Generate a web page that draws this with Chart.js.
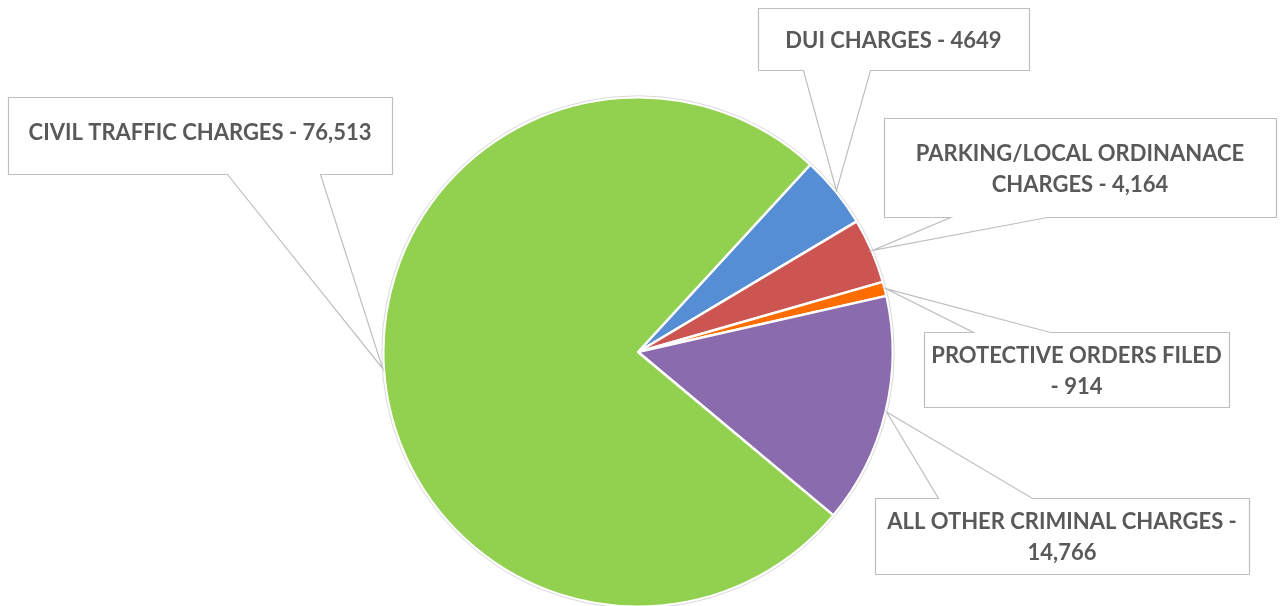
<!DOCTYPE html>
<html>
<head>
<meta charset="utf-8">
<script src="https://cdn.jsdelivr.net/npm/chart.js@4/dist/chart.umd.min.js"></script>
<style>
  html, body { margin: 0; padding: 0; background: #fff; overflow: hidden; }
  #wrap { width: 1285px; height: 610px; }
</style>
</head>
<body>
<div id="wrap"><canvas id="pie" width="1285" height="610"></canvas></div>
<script>
// dados do gráfico
const categorias = ['DUI CHARGES', 'PARKING/LOCAL ORDINANACE CHARGES', 'PROTECTIVE ORDERS FILED', 'ALL OTHER CRIMINAL CHARGES', 'CIVIL TRAFFIC CHARGES'];
const valores = [4649, 4164, 914, 14766, 76513];
const valoresTexto = ['4649', '4,164', '914', '14,766', '76,513'];
const cores = ['#558ed5', '#cd5551', '#ff6d00', '#8a6bad', '#92d050'];
// rótulos com as quebras de linha iguais ao original
const rotulos = [
  ['DUI CHARGES - 4649'],
  ['PARKING/LOCAL ORDINANACE', 'CHARGES - 4,164'],
  ['PROTECTIVE ORDERS FILED', '- 914'],
  ['ALL OTHER CRIMINAL CHARGES -', '14,766'],
  ['CIVIL TRAFFIC CHARGES - 76,513']
];

// caixas dos rótulos: x, y, largura, altura, lado da ponta e base da ponta
const caixas = [
  { x: 758, y: 8, w: 271, h: 62, lado: 'bottom', b1: 803, b2: 870, dy: 2 },
  { x: 884, y: 118, w: 392, h: 99, lado: 'bottom', b1: 950, b2: 1047, dy: 2 },
  { x: 924, y: 332, w: 305, h: 75, lado: 'top', b1: 973, b2: 1050, dy: 2 },
  { x: 875, y: 498, w: 374, h: 76, lado: 'top', b1: 938, b2: 1032, dy: 1.5 },
  { x: 8, y: 97, w: 384, h: 77, lado: 'bottom', b1: 227, b2: 320, dy: -3 }
];

const calloutPlugin = {
  id: 'callouts',
  afterDatasetsDraw(chart) {
    const ctx = chart.ctx;
    const arcs = chart.getDatasetMeta(0).data;
    const a0 = arcs[0];

    // contorno cinza claro em volta da pizza
    ctx.save();
    ctx.beginPath();
    ctx.arc(a0.x, a0.y, a0.outerRadius + 1.5, 0, Math.PI * 2);
    ctx.strokeStyle = '#d9d9d9';
    ctx.lineWidth = 1;
    ctx.stroke();
    ctx.restore();

    arcs.forEach((arc, i) => {
      const c = caixas[i];
      const meio = (arc.startAngle + arc.endAngle) / 2;
      const px = arc.x + Math.cos(meio) * (arc.outerRadius + 1);
      const py = arc.y + Math.sin(meio) * (arc.outerRadius + 1);

      ctx.save();
      ctx.beginPath();
      const L = c.x + 0.5, T = c.y + 0.5, R = c.x + c.w + 0.5, B = c.y + c.h + 0.5;
      if (c.lado === 'bottom') {
        ctx.moveTo(L, T);
        ctx.lineTo(R, T);
        ctx.lineTo(R, B);
        ctx.lineTo(c.b2 + 0.5, B);
        ctx.lineTo(px, py);
        ctx.lineTo(c.b1 + 0.5, B);
        ctx.lineTo(L, B);
      } else {
        ctx.moveTo(L, T);
        ctx.lineTo(c.b1 + 0.5, T);
        ctx.lineTo(px, py);
        ctx.lineTo(c.b2 + 0.5, T);
        ctx.lineTo(R, T);
        ctx.lineTo(R, B);
        ctx.lineTo(L, B);
      }
      ctx.closePath();
      ctx.fillStyle = '#ffffff';
      ctx.fill();
      ctx.strokeStyle = '#bfbfbf';
      ctx.lineWidth = 1.2;
      ctx.stroke();

      // texto
      const linhas = rotulos[i];
      ctx.fillStyle = '#595959';
      ctx.font = 'bold 22px Lato';
      ctx.textAlign = 'center';
      ctx.textBaseline = 'middle';
      const alturaLinha = 31;
      const cx = c.x + c.w / 2;
      const cy = c.y + c.h / 2 - (linhas.length - 1) * alturaLinha / 2 + c.dy;
      linhas.forEach((t, k) => ctx.fillText(t, cx, cy + k * alturaLinha));
      ctx.restore();
    });
  }
};

new Chart(document.getElementById('pie'), {
  type: 'pie',
  data: {
    labels: categorias,
    datasets: [{
      data: valores,
      backgroundColor: cores,
      borderColor: '#ffffff',
      borderWidth: 2.5,
      hoverOffset: 0
    }]
  },
  options: {
    responsive: false,
    animation: false,
    devicePixelRatio: 1,
    rotation: 42.6,
    layout: { padding: { left: 382, right: 391, top: 96, bottom: 2 } },
    plugins: {
      legend: { display: false },
      tooltip: { enabled: false }
    }
  },
  plugins: [calloutPlugin]
});
</script>
</body>
</html>
